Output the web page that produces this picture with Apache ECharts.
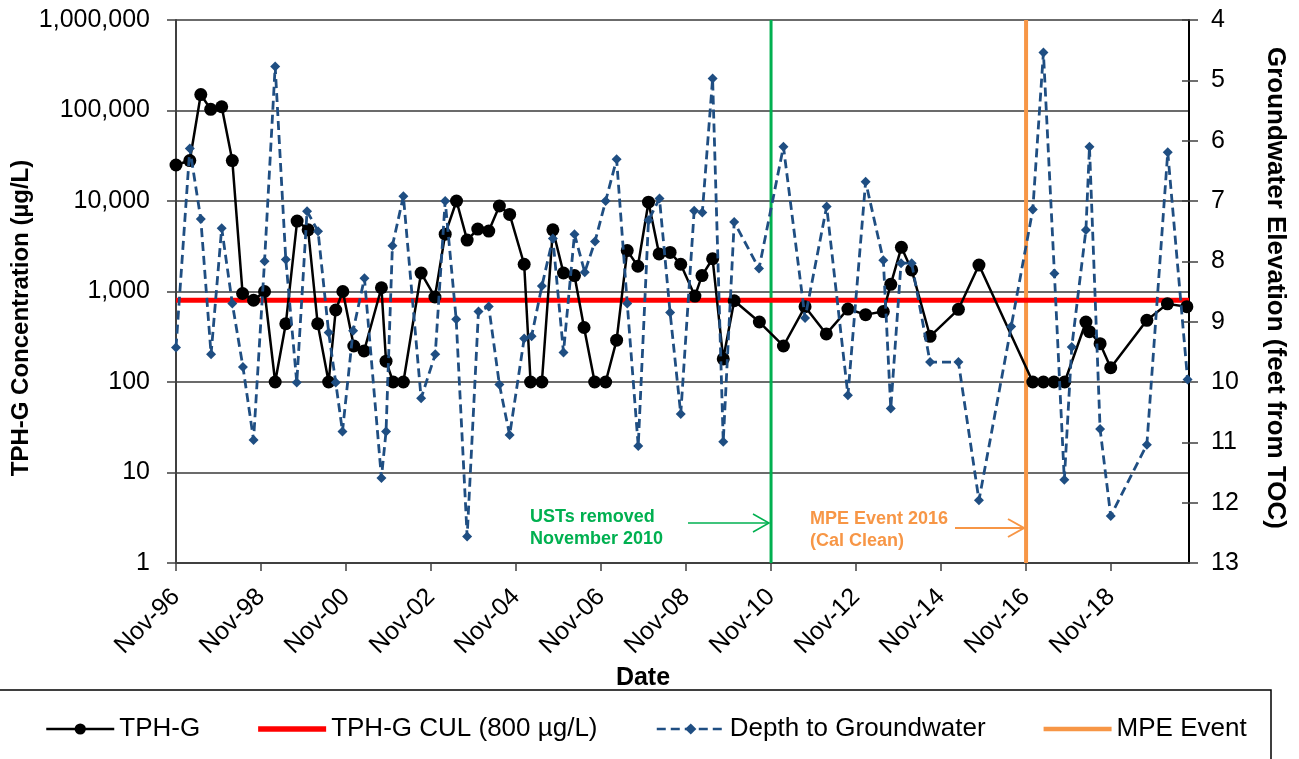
<!DOCTYPE html>
<html>
<head>
<meta charset="utf-8">
<script src="https://cdn.jsdelivr.net/npm/echarts@6/dist/echarts.min.js"></script>
<style>html,body{margin:0;padding:0;background:#fff;}#c{width:1299px;height:759px;}</style>
</head>
<body>
<div id="c"></div>
<script>
// x values are months since Nov 1996
const tphMonths = [0,3.9,7,9.8,12.9,15.9,18.8,21.9,25,28,31,34.2,37.3,40,43.1,45.1,47.1,50.2,53.1,58,59.3,61.3,64.2,69.2,73.1,76,79.2,82.2,85.2,88.3,91.3,94.2,98.3,100.1,103.3,106.4,109.4,112.5,115.2,118.2,121.3,124.4,127.4,130.4,133.4,136.4,139.5,142.5,146.5,148.5,151.5,154.5,157.6,164.7,171.5,177.6,183.6,189.7,194.7,199.7,201.8,204.8,207.7,212.9,220.9,226.7,241.9,244.9,247.9,250.9,256.9,257.9,260.9,263.9,274.1,279.9,285.4];
const tphValues = [25000,28000,150000,103000,110000,28000,950,800,1000,100,440,6000,4800,440,100,625,1000,250,220,1100,170,100,100,1600,870,4300,10000,3700,4900,4650,8800,7100,2000,100,100,4800,1600,1500,400,100,100,290,2830,1900,9700,2600,2700,2000,890,1500,2300,180,790,460,250,680,340,640,555,600,1200,3080,1730,320,635,1960,100,100,100,100,460,360,265,144,480,730,680];
const gwMonths = [0,3.9,7,9.9,12.9,15.9,18.9,21.9,25,28,31,34.1,37,40.1,43.1,45.1,47,50,53.2,58,59.3,61.1,64.2,69.2,73.2,76,79.1,82.2,85.4,88.3,91.3,94.2,98.3,100.4,103.3,106.4,109.4,112.5,115.4,118.3,121.3,124.4,127.4,130.5,133.4,136.5,139.5,142.5,146.3,148.6,151.5,154.5,157.6,164.6,171.5,177.6,183.7,189.7,194.7,199.7,201.8,204.7,207.7,212.9,220.9,226.7,235.8,241.9,244.9,248,250.8,252.9,256.9,257.9,260.9,263.9,274.1,280,285.6];
const gwDepth = [9.43,6.13,7.30,9.54,7.45,8.70,9.75,10.96,8.00,4.77,7.97,10.01,7.17,7.50,9.18,10.01,10.82,9.15,8.28,11.59,10.82,7.74,6.92,10.27,9.54,7.00,8.96,12.56,8.83,8.75,10.04,10.88,9.28,9.24,8.41,7.62,9.51,7.55,8.18,7.67,7.00,6.31,8.70,11.06,7.32,6.96,8.85,10.53,7.16,7.19,4.97,10.99,7.35,8.12,6.10,8.94,7.09,10.22,6.68,7.98,10.44,8.03,8.03,9.67,9.67,11.96,9.08,7.14,4.54,8.20,11.62,9.42,7.48,6.10,10.78,12.22,11.04,6.19,9.96];
const culValue = 800;
const xMin = 0, xMax = 286, xStep = 24;
const ustMonth = 168;   // Nov-10
const mpeMonth = 240;   // Nov-16
const monthNames = ['Jan','Feb','Mar','Apr','May','Jun','Jul','Aug','Sep','Oct','Nov','Dec'];

function monthLabel(m){
  const t = 10 + Math.round(m);
  const y = 1996 + Math.floor(t/12);
  return monthNames[t%12] + '-' + String(y%100).padStart(2,'0');
}
const FONT = 'Liberation Sans, Arial, sans-serif';
const chart = echarts.init(document.getElementById('c'), null, {renderer:'canvas'});
const pair = (xs, ys) => xs.map((x,i)=>[x, ys[i]]);

chart.setOption({
  animation:false,
  backgroundColor:'#fff',
  grid:{left:176, right:110, top:20, bottom:196, containLabel:false},
  xAxis:{
    type:'value', min:xMin, max:xMax, interval:xStep,
    axisLine:{show:true, lineStyle:{color:'#404040', width:2}},
    axisTick:{show:true, length:8, lineStyle:{color:'#404040', width:1.5}},
    axisLabel:{rotate:45, margin:30, fontSize:25, color:'#000', fontFamily:FONT, formatter:monthLabel, showMaxLabel:false},
    splitLine:{show:false}
  },
  yAxis:[
    {type:'log', logBase:10, min:1, max:1000000, position:'left',
     axisLine:{show:true, lineStyle:{color:'#404040', width:2}},
     axisTick:{show:true, length:9, lineStyle:{color:'#404040', width:1.5}},
     axisLabel:{fontSize:25, color:'#000', fontFamily:FONT, margin:26,
       formatter:v=>Number(v).toLocaleString('en-US')},
     splitLine:{show:true, lineStyle:{color:'#3a3a3a', width:1.5}}
    },
    {type:'value', min:4, max:13, interval:1, inverse:true, position:'right',
     axisLine:{show:true, lineStyle:{color:'#000', width:2}},
     axisTick:{show:true, length:9, lineStyle:{color:'#404040', width:1.5}},
     axisLabel:{fontSize:25, color:'#000', fontFamily:FONT, margin:22},
     splitLine:{show:false}
    },
    {type:'value', min:4, max:13, interval:1, inverse:true, position:'right',
     axisLine:{show:false},
     axisTick:{show:true, inside:true, length:7, lineStyle:{color:'#404040', width:1.5}},
     axisLabel:{show:false},
     splitLine:{show:false}
    }
  ],
  legend:{
    data:[
      {name:'TPH-G'},
      {name:'TPH-G CUL (800 µg/L)', icon:'path://M0,0 L60,0 L60,5 L0,5 Z'},
      {name:'Depth to Groundwater'},
      {name:'MPE Event', icon:'path://M0,0 L60,0 L60,4 L0,4 Z'}
    ],
    left:40, top:711, itemWidth:68, itemHeight:14, itemGap:58,
    lineStyle:{width:2.5},
    textStyle:{fontSize:26, color:'#000', fontFamily:FONT}
  },
  series:[
    {name:'USTs removed', type:'line', data:[[ustMonth,1],[ustMonth,1000000]], symbol:'none',
     lineStyle:{color:'#00B050', width:3}, z:1, silent:true},
    {name:'MPE Event', type:'line', data:[[mpeMonth,1],[mpeMonth,1000000]], symbol:'none',
     itemStyle:{color:'#F79646'}, lineStyle:{color:'#F79646', width:4}, z:1, silent:true},
    {name:'TPH-G CUL (800 µg/L)', type:'line', data:[[xMin,culValue],[xMax,culValue]], symbol:'none',
     itemStyle:{color:'#FF0000'}, lineStyle:{color:'#FF0000', width:5}, z:2},
    {name:'TPH-G', type:'line', yAxisIndex:0, data:pair(tphMonths,tphValues),
     symbol:'circle', symbolSize:13, itemStyle:{color:'#000'}, lineStyle:{color:'#000', width:2.5}, z:3},
    {name:'Depth to Groundwater', type:'line', yAxisIndex:1, data:pair(gwMonths,gwDepth),
     symbol:'diamond', symbolSize:10, itemStyle:{color:'#1F4E82'},
     lineStyle:{color:'#1F4E82', width:2.8, type:[9,5]}, z:4}
  ],
  graphic:[
    {type:'text', x:21, y:318, rotation:Math.PI/2,
     style:{text:'TPH-G Concentration (µg/L)', font:'bold 24px '+FONT, fill:'#000', textAlign:'center', textVerticalAlign:'middle'}},
    {type:'text', x:1275, y:288, rotation:-Math.PI/2,
     style:{text:'Groundwater Elevation (feet from TOC)', font:'bold 26px '+FONT, fill:'#000', textAlign:'center', textVerticalAlign:'middle'}},
    {type:'text', x:643, y:678,
     style:{text:'Date', font:'bold 25px '+FONT, fill:'#000', textAlign:'center', textVerticalAlign:'middle'}},
    {type:'text', x:530, y:517,
     style:{text:'USTs removed', font:'bold 18px '+FONT, fill:'#00B050', textAlign:'left', textVerticalAlign:'middle'}},
    {type:'text', x:530, y:539,
     style:{text:'November 2010', font:'bold 18px '+FONT, fill:'#00B050', textAlign:'left', textVerticalAlign:'middle'}},
    {type:'line', shape:{x1:688, y1:523, x2:768, y2:523}, style:{stroke:'#00B050', lineWidth:1.5}},
    {type:'polyline', shape:{points:[[753,514],[769,523],[753,532]]}, style:{stroke:'#00B050', lineWidth:1.5, fill:null}},
    {type:'text', x:810, y:519,
     style:{text:'MPE Event 2016', font:'bold 18px '+FONT, fill:'#F79646', textAlign:'left', textVerticalAlign:'middle'}},
    {type:'text', x:810, y:541,
     style:{text:'(Cal Clean)', font:'bold 18px '+FONT, fill:'#F79646', textAlign:'left', textVerticalAlign:'middle'}},
    {type:'line', shape:{x1:955, y1:528, x2:1023, y2:528}, style:{stroke:'#F79646', lineWidth:2}},
    {type:'polyline', shape:{points:[[1008,519],[1024,528],[1008,537]]}, style:{stroke:'#F79646', lineWidth:2, fill:null}},
    {type:'polyline', shape:{points:[[-2,690],[1271,690],[1271,770]]}, style:{stroke:'#000', lineWidth:1.5, fill:null}}
  ]
});
</script>
</body>
</html>
